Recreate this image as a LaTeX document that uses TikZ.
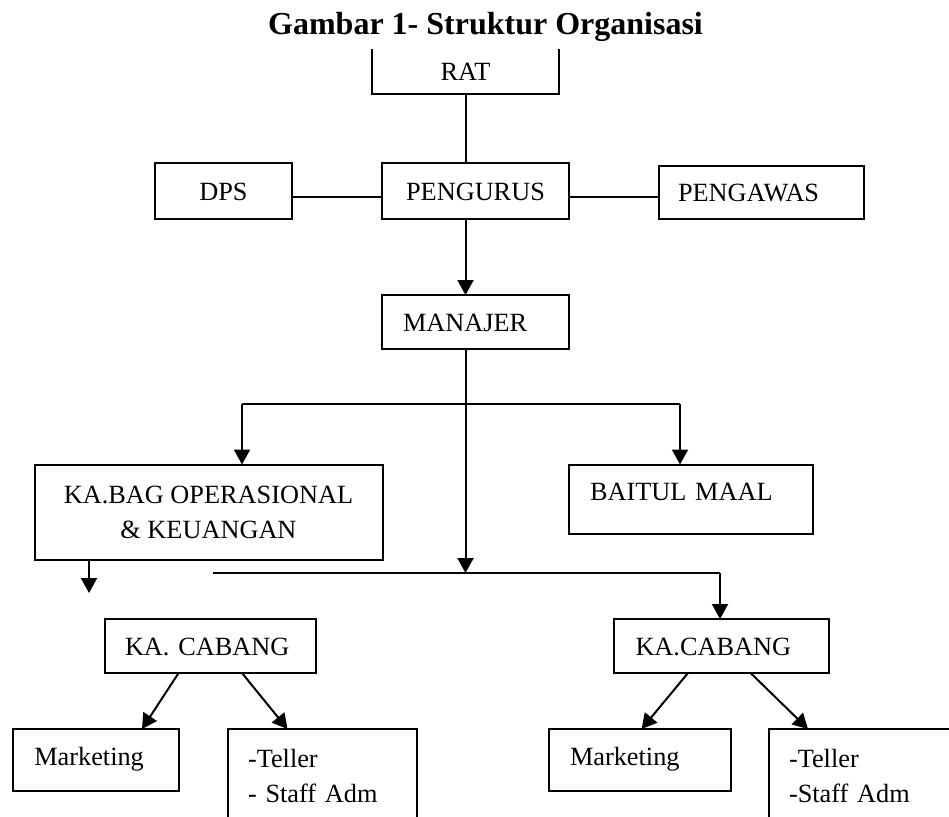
\documentclass[tikz,border=0pt]{standalone}
\usepackage{fontspec}
\setmainfont{Liberation Serif}
\usetikzlibrary{arrows.meta}
\frenchspacing
\begin{document}
\begin{tikzpicture}[x=1pt,y=-1pt,
  box/.style={draw, line width=2pt, inner sep=0pt, outer sep=0pt, anchor=north west,
    font=\fontsize{26.3}{35}\selectfont\frenchspacing},
  one/.style={text height=18pt, text depth=0pt},
  ln/.style={line width=2pt},
  arr/.style={line width=2pt, -{Triangle[length=15pt,width=16pt]}}]
\useasboundingbox (0,0) rectangle (949,816);
\clip (0,0) rectangle (949,816);

\node[font=\fontsize{32}{38}\selectfont\bfseries, anchor=base] (title) at (485.5,35) {Gambar 1- Struktur Organisasi};

% top level
\node[box, one, draw=none, minimum width=187pt, minimum height=45pt] (RAT) at (372,49) {RAT};
\draw[ln] (RAT.north west) -- (RAT.south west) -- (RAT.south east) -- (RAT.north east);

\node[box, one, minimum width=137pt, minimum height=56pt] (DPS) at (155,163) {DPS};
\node[box, one, minimum width=187pt, minimum height=56pt] (PENG) at (382,163) {PENGURUS};
\node[box, one, minimum width=205pt, minimum height=53pt, align=left, inner xsep=19pt, text width=167pt] (PGW) at (659,166) {PENGAWAS};

\node[box, one, minimum width=187pt, minimum height=54pt, align=left, inner xsep=21pt, text width=145pt] (MAN) at (382,295) {MANAJER};

\node[box, minimum width=348pt, minimum height=95pt, align=center] (KABAG) at (34.5,464.5) {KA.BAG OPERASIONAL\\\& KEUANGAN};
\node[box, text height=18pt, text depth=16pt, minimum width=244pt, minimum height=69pt, align=left, inner xsep=21pt, text width=202pt] (BM) at (569,464.5) {BAITUL MAAL};

\node[box, one, minimum width=211pt, minimum height=54pt, align=left, inner xsep=20pt, text width=171pt] (KC1) at (105,619) {KA. CABANG};
\node[box, one, minimum width=215pt, minimum height=54pt, align=left, inner xsep=21.5pt, text width=172pt] (KC2) at (614,619) {KA.CABANG};

\node[box, text height=18pt, text depth=8pt, minimum width=166pt, minimum height=62pt, align=left, inner xsep=21pt, text width=124pt] (MK1) at (13.3,729) {Marketing};
\node[box, text height=18pt, text depth=8pt, minimum width=181.6pt, minimum height=62pt, align=left, inner xsep=21pt, text width=139.6pt] (MK2) at (549,729) {Marketing};

\node[box, align=left, inner xsep=20.5pt, inner ysep=20pt, text width=148.5pt] (TL1) at (227.5,729) {-Teller\\- Staff Adm};
\node[box, align=left, inner xsep=20pt, inner ysep=20pt, text width=200pt] (TL2) at (769,729) {-Teller\\-Staff Adm};

% coordinates
\coordinate (spine) at (465.5,0);
\coordinate (hl) at (0,197);
\coordinate (br1) at (0,403.5);
\coordinate (br2) at (0,573);
\coordinate (kbl) at (242,0);
\coordinate (bml) at (680,0);
\coordinate (brl) at (213,0);
\coordinate (kcr) at (720,0);
\coordinate (free) at (89,593);

% connectors
\draw[ln] (RAT.south -| spine) -- (PENG.north -| spine);
\draw[ln] (DPS.east |- hl) -- (PENG.west |- hl);
\draw[ln] (PENG.east |- hl) -- (PGW.west |- hl);
\draw[arr] (PENG.south -| spine) -- (MAN.north -| spine);
\draw[arr] (MAN.south -| spine) -- (spine |- br2);
\draw[ln] (kbl |- br1) -- (bml |- br1);
\draw[arr] (kbl |- br1) -- (KABAG.north -| kbl);
\draw[arr] (bml |- br1) -- (BM.north -| bml);
\draw[arr] (KABAG.south -| free) -- (free);
\draw[ln] (brl |- br2) -- (kcr |- br2);
\draw[arr] (kcr |- br2) -- (KC2.north -| kcr);

\draw[arr] ([xshift=73.6pt]KC1.south west) -- ([xshift=128.7pt]MK1.north west);
\draw[arr] ([xshift=137pt]KC1.south west) -- ([xshift=60pt]TL1.north west);
\draw[arr] ([xshift=74pt]KC2.south west) -- ([xshift=92.6pt]MK2.north west);
\draw[arr] ([xshift=136.6pt]KC2.south west) -- ([xshift=39pt]TL2.north west);
\end{tikzpicture}
\end{document}
